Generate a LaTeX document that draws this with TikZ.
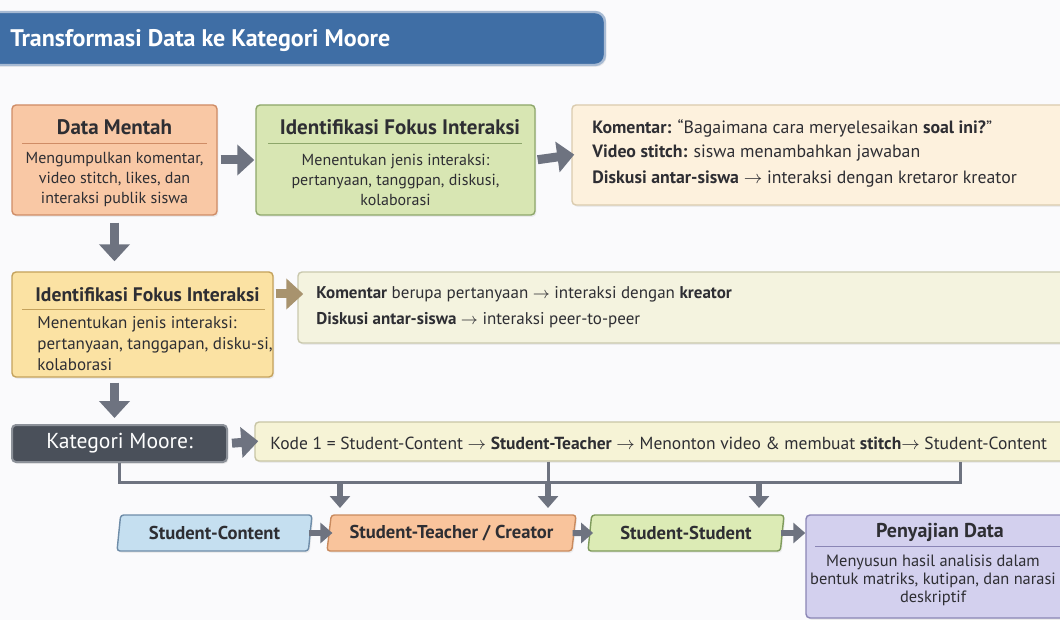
\documentclass[tikz,border=0pt]{standalone}
\usepackage{fontspec}
\setmainfont{PT Sans}
\usepackage{xcolor}
\usetikzlibrary{arrows.meta, shapes.geometric, shadows, positioning, calc}

\definecolor{bgwhite}{HTML}{FAFAFC}
\definecolor{textdark}{HTML}{2E2E33}
\definecolor{bannerblue}{HTML}{3F6EA5}
\definecolor{bannerline}{HTML}{A7BAD3}
\definecolor{orangefill}{HTML}{F9C8A5}
\definecolor{orangeline}{HTML}{CF8C66}
\definecolor{greenfill}{HTML}{D8E6B3}
\definecolor{greenline}{HTML}{8DA66A}
\definecolor{creamfill}{HTML}{FDF1DD}
\definecolor{creamline}{HTML}{DACBAE}
\definecolor{yellowfill}{HTML}{FBE2A3}
\definecolor{yellowline}{HTML}{C4A25C}
\definecolor{palefill}{HTML}{F4F3DF}
\definecolor{paleline}{HTML}{C9C8AD}
\definecolor{mooredark}{HTML}{4A505A}
\definecolor{mooreline}{HTML}{8C9199}
\definecolor{kodefill}{HTML}{F6F3D6}
\definecolor{kodeline}{HTML}{C8C5A5}
\definecolor{arrowgray}{HTML}{6E7380}
\definecolor{arrowbrown}{HTML}{A8936E}
\definecolor{bluefill}{HTML}{C5DFF0}
\definecolor{blueline}{HTML}{6E8CA8}
\definecolor{peachfill}{HTML}{F9C49C}
\definecolor{peachline}{HTML}{C98A5E}
\definecolor{limefill}{HTML}{DCEBB5}
\definecolor{limeline}{HTML}{7E9A5B}
\definecolor{purplefill}{HTML}{D3D0EE}
\definecolor{purpleline}{HTML}{8A85B5}

\begin{document}
\begin{tikzpicture}[x=0.5pt, y=-0.5pt,
    box/.style={draw, rounded corners=2pt, line width=0.7pt, inner sep=0pt,
        drop shadow={opacity=0.12, shadow xshift=0.7pt, shadow yshift=-0.9pt}},
    boxtitle/.style={font=\fontsize{10.5}{12}\selectfont\bfseries, text=textdark},
    boxbody/.style={font=\fontsize{8}{10}\selectfont, text=textdark, align=center},
    linetext/.style={anchor=west, font=\fontsize{8.9}{10}\selectfont, text=textdark, inner sep=0pt},
    fatarrow/.style={draw=arrowgray, line width=4.5pt, -{Triangle[width=15pt,length=8.5pt]}},
    midarrow/.style={draw=arrowgray, line width=3pt, -{Triangle[width=10pt,length=6pt]}},
    bracket/.style={draw=arrowgray, line width=1.5pt},
    para/.style={shape=trapezium, trapezium left angle=75, trapezium right angle=105,
        trapezium stretches body=true, draw, line width=0.7pt, rounded corners=1.5pt,
        minimum height=18pt, inner sep=0pt, text=textdark,
        drop shadow={opacity=0.12, shadow xshift=0.7pt, shadow yshift=-0.9pt},
        font=\fontsize{9.3}{10}\selectfont\bfseries}]

\fill[bgwhite] (0,0) rectangle (1060,620);
\useasboundingbox (0,0) rectangle (1060,620);
\clip (0,0) rectangle (1060,620);

\node[box, fill=bannerblue, draw=bannerline, line width=1.2pt, rounded corners=5pt,
    minimum width=315pt, minimum height=26.5pt] (banner) at (290,38.5) {};
\node[anchor=west, text=white, font=\fontsize{12}{14}\selectfont\bfseries, inner sep=0pt] (bannertext) at (10,41)
    {Transformasi Data ke Kategori Moore};

\node[box, fill=orangefill, draw=orangeline, minimum width=102.5pt, minimum height=55pt] (mentah) at (114.5,160) {};
\node[boxtitle] (mentahtitle) at (114.5,127) {Data Mentah};
\draw[orangeline] (22,143) -- (207,143);
\node[boxbody] (mentahbody) at (114.5,180) {Mengumpulkan komentar,\\video stitch, likes, dan\\interaksi publik siswa};

\node[box, fill=greenfill, draw=greenline, minimum width=139.5pt, minimum height=55pt] (fokus) at (395.5,160) {};
\node[boxtitle] (fokustitle) at (400,127) {Identifikasi Fokus Interaksi};
\draw[greenline] (268,143) -- (522,143);
\node[boxbody] (fokusbody) at (395.5,180) {Menentukan jenis interaksi:\\pertanyaan, tanggpan, diskusi,\\kolaborasi};

\node[box, fill=creamfill, draw=creamline, minimum width=251.5pt, minimum height=50pt] (komentar) at (823.5,155) {};
\node[linetext] (kom1) at (592,128) {\textbf{Komentar:} “Bagaimana cara meryelesaikan \textbf{soal ini?}”};
\node[linetext] (kom2) at (592,153) {\textbf{Video stitch:} siswa menambahkan jawaban};
\node[linetext] (kom3) at (592,179) {\textbf{Diskusi antar-siswa} $\rightarrow$ interaksi dengan kretaror kreator};

\draw[fatarrow, shorten <=1.5pt, shorten >=0.5pt] (mentah.east) -- (fokus.west);
\draw[fatarrow, shorten <=1pt, shorten >=-1.5pt] (fokus.east) -- (komentar.west);

\node[box, fill=yellowfill, draw=yellowline, minimum width=130.5pt, minimum height=52.5pt] (fokus2) at (142.5,324.5) {};
\node[boxtitle, anchor=west, font=\fontsize{9.8}{12}\selectfont\bfseries, inner sep=0pt] (fokus2title) at (35,295) {Identifikasi Fokus Interaksi};
\draw[yellowline] (22,309) -- (265,309);
\node[boxbody, anchor=north west, align=left, font=\fontsize{8.5}{10.5}\selectfont, inner sep=0pt] (fokus2body) at (37,316)
    {Menentukan jenis interaksi:\\pertanyaan, tanggapan, disku-si,\\kolaborasi};

\node[box, fill=palefill, draw=paleline, minimum width=388.5pt, minimum height=35.5pt] (komen2) at (686.5,307.5) {};
\node[linetext, font=\fontsize{8.5}{10}\selectfont] (k2a) at (316,294) {\textbf{Komentar} berupa pertanyaan $\rightarrow$ interaksi dengan \textbf{kreator}};
\node[linetext, font=\fontsize{8.5}{10}\selectfont] (k2b) at (316,320) {\textbf{Diskusi antar-siswa} $\rightarrow$ interaksi peer-to-peer};

\draw[fatarrow, draw=arrowbrown, shorten <=1pt, shorten >=-3pt] (fokus2.east |- k2a) -- (komen2.west |- k2a);
\draw[fatarrow, shorten <=3.5pt, shorten >=5pt] (mentah.south) -- (mentah.south |- fokus2.north);
\draw[fatarrow, shorten <=2.5pt, shorten >=3.5pt] (mentah.south |- fokus2.south) -- (mentah.south |- 0,425);

\node[box, fill=mooredark, draw=mooreline, line width=1pt, minimum width=107.5pt, minimum height=18.5pt,
    text=white, font=\fontsize{10.8}{12}\selectfont] (moore) at (119.5,443.5) {Kategori Moore:};
\node[box, fill=kodefill, draw=kodeline, minimum width=410pt, minimum height=19.5pt] (kode) at (665,441.5) {};
\node[linetext, font=\fontsize{8.75}{10}\selectfont] (kodetext) at (270,443)
    {Kode 1 = Student-Content $\rightarrow$ \textbf{Student-Teacher} $\rightarrow$ Menonton video \& membuat \textbf{stitch}$\rightarrow$ Student-Content};
\draw[fatarrow, shorten <=2pt, shorten >=-2pt] (moore.east) -- (kode.west);

\node[para, fill=bluefill, draw=blueline, minimum width=97.5pt] (sc) at (214.5,533) {Student-Content};
\node[para, fill=peachfill, draw=peachline, minimum width=124.5pt] (st) at (451.5,533) {Student-Teacher / Creator};
\node[para, fill=limefill, draw=limeline, minimum width=98pt] (ss) at (686,533) {Student-Student};
\node[box, fill=purplefill, draw=purpleline, minimum width=134.5pt, minimum height=51.5pt] (pd) at (940.5,566.5) {};
\node[boxtitle, font=\fontsize{10}{12}\selectfont\bfseries] (pdtitle) at (940,532) {Penyajian Data};
\draw[purpleline] (815,546) -- (1060,546);
\node[boxbody, font=\fontsize{8.2}{9}\selectfont] (pdbody) at (933,580) {Menyusun hasil analisis dalam\\bentuk matriks, kutipan, dan narasi\\deskriptif};

\draw[midarrow, shorten <=-1pt, shorten >=-2pt] (sc.east) -- (st.west);
\draw[midarrow, shorten <=-1pt, shorten >=-2pt] (st.east) -- (ss.west);
\draw[midarrow, shorten <=-1pt, shorten >=0pt] (ss.east) -- (pd.west |- ss.east);

\coordinate (ja) at (340,482);
\coordinate (jm) at (548,482);
\coordinate (jb) at (759,482);
\coordinate (jr) at (960,482);
\draw[bracket] (moore.south) -- (moore.south |- jr) -- (jr) -- (jr |- kode.south);
\draw[bracket] (jm |- kode.south) -- (jm);
\draw[midarrow] (ja) -- (ja |- 0,508);
\draw[midarrow] (jm) -- (jm |- 0,508);
\draw[midarrow] (jb) -- (jb |- 0,508);
\end{tikzpicture}
\end{document}
